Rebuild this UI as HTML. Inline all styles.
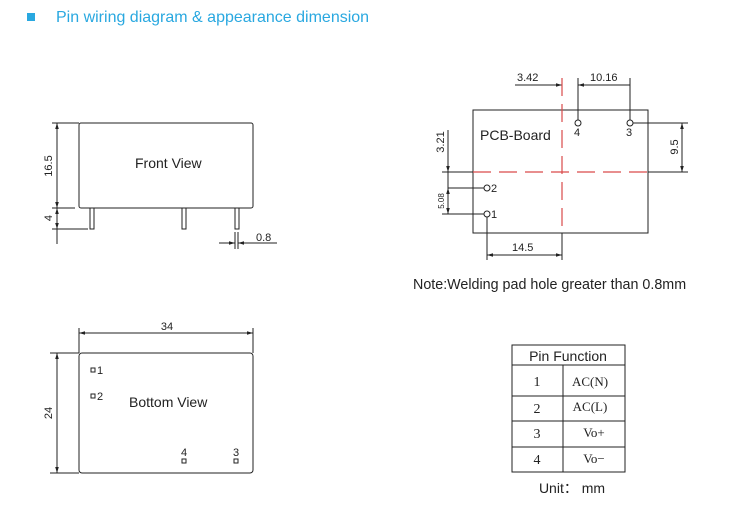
<!DOCTYPE html>
<html><head><meta charset="utf-8"><style>
body{margin:0;background:#fff;width:750px;height:508px;overflow:hidden}
svg{display:block}
text{font-family:"Liberation Sans",Arial,sans-serif;fill:#222}
.s{font-family:"Liberation Serif",serif}
</style></head><body>
<svg width="750" height="508" viewBox="0 0 750 508" xmlns="http://www.w3.org/2000/svg">
<defs>
<marker id="a" viewBox="0 0 10 10" refX="10" refY="5" markerWidth="6" markerHeight="6" orient="auto-start-reverse"><path d="M0,2 L10,5 L0,8" fill="#222"/></marker>
</defs>
<rect x="27" y="13" width="8" height="8" fill="#29a8e0"/>
<text x="56" y="22" font-size="16" style="fill:#29a8e0">Pin wiring diagram &amp; appearance dimension</text>

<g stroke="#222" stroke-width="1" fill="none">
<rect x="79" y="123" width="174" height="85" rx="2"/>
<rect x="90" y="208" width="4" height="21"/>
<rect x="182" y="208" width="4" height="21"/>
<rect x="235" y="208" width="4" height="21"/>
<line x1="52" y1="123" x2="79" y2="123"/>
<line x1="52" y1="208" x2="75" y2="208"/>
<line x1="52" y1="229" x2="88" y2="229"/>
<line x1="57" y1="123" x2="57" y2="208" marker-start="url(#a)" marker-end="url(#a)"/>
<line x1="57" y1="208" x2="57" y2="229" marker-start="url(#a)" marker-end="url(#a)"/>
<line x1="57" y1="229" x2="57" y2="244"/>
<line x1="235" y1="232" x2="235" y2="249"/>
<line x1="238" y1="232" x2="238" y2="249"/>
<line x1="219" y1="243" x2="235" y2="243" marker-end="url(#a)"/>
<line x1="277" y1="243" x2="238" y2="243" marker-end="url(#a)"/>

<rect x="473" y="110" width="175" height="123"/>
<line x1="515" y1="85" x2="562" y2="85" marker-end="url(#a)"/>
<line x1="578" y1="85" x2="630" y2="85" marker-start="url(#a)"/>
<line x1="578" y1="78" x2="578" y2="120"/>
<line x1="630" y1="78" x2="630" y2="120"/>
<line x1="633" y1="123" x2="688" y2="123"/>
<line x1="648" y1="172" x2="688" y2="172"/>
<line x1="682" y1="123" x2="682" y2="172" marker-start="url(#a)" marker-end="url(#a)"/>
<line x1="442" y1="172" x2="473" y2="172"/>
<line x1="448" y1="130" x2="448" y2="172" marker-end="url(#a)"/>
<line x1="448" y1="172" x2="448" y2="188"/>
<line x1="448" y1="188" x2="448" y2="214" marker-start="url(#a)" marker-end="url(#a)"/>
<line x1="448" y1="188" x2="484" y2="188"/>
<line x1="442" y1="214" x2="484" y2="214"/>
<line x1="487" y1="217" x2="487" y2="260"/>
<line x1="487" y1="255" x2="562" y2="255" marker-start="url(#a)" marker-end="url(#a)"/>
<line x1="562" y1="233" x2="562" y2="260"/>
<circle cx="578" cy="123" r="3"/>
<circle cx="630" cy="123" r="3"/>
<circle cx="487" cy="188" r="3"/>
<circle cx="487" cy="214" r="3"/>

<rect x="79" y="353" width="174" height="120" rx="3"/>
<line x1="79" y1="328" x2="79" y2="353"/>
<line x1="253" y1="328" x2="253" y2="353"/>
<line x1="79" y1="333" x2="253" y2="333" marker-start="url(#a)" marker-end="url(#a)"/>
<line x1="50" y1="353" x2="79" y2="353"/>
<line x1="50" y1="473" x2="79" y2="473"/>
<line x1="57" y1="353" x2="57" y2="473" marker-start="url(#a)" marker-end="url(#a)"/>
<rect x="91" y="368" width="4" height="4"/>
<rect x="91" y="394" width="4" height="4"/>
<rect x="182" y="459" width="4" height="4"/>
<rect x="234" y="459" width="4" height="4"/>

<rect x="512" y="345" width="113" height="127"/>
<line x1="512" y1="365" x2="625" y2="365"/>
<line x1="512" y1="396" x2="625" y2="396"/>
<line x1="512" y1="421" x2="625" y2="421"/>
<line x1="512" y1="447" x2="625" y2="447"/>
<line x1="563" y1="365" x2="563" y2="472"/>
</g>
<g stroke="#d94a4a" stroke-width="1.2" stroke-dasharray="18,8">
<line x1="562" y1="78" x2="562" y2="233"/>
<line x1="473" y1="172" x2="648" y2="172"/>
</g>

<text x="135" y="168" font-size="14">Front View</text>
<text transform="translate(52,166) rotate(-90)" font-size="11" text-anchor="middle">16.5</text>
<text transform="translate(52,218) rotate(-90)" font-size="11" text-anchor="middle">4</text>
<text x="256" y="241" font-size="11">0.8</text>

<text x="517" y="81" font-size="11">3.42</text>
<text x="590" y="81" font-size="11">10.16</text>
<text x="480" y="140" font-size="14">PCB-Board</text>
<text x="574" y="136" font-size="11">4</text>
<text x="626" y="136" font-size="11">3</text>
<text x="491" y="192" font-size="11">2</text>
<text x="491" y="218" font-size="11">1</text>
<text transform="translate(444,142) rotate(-90)" font-size="11" text-anchor="middle">3.21</text>
<text transform="translate(444,201) rotate(-90)" font-size="8" text-anchor="middle">5.08</text>
<text transform="translate(678,147) rotate(-90)" font-size="11" text-anchor="middle">9.5</text>
<text x="512" y="251" font-size="11">14.5</text>
<text x="413" y="289" font-size="14.3">Note:Welding pad hole greater than 0.8mm</text>

<text x="167" y="330" font-size="11" text-anchor="middle">34</text>
<text transform="translate(52,413) rotate(-90)" font-size="11" text-anchor="middle">24</text>
<text x="97" y="374" font-size="11">1</text>
<text x="97" y="400" font-size="11">2</text>
<text x="129" y="407" font-size="14">Bottom View</text>
<text x="184" y="456" font-size="11" text-anchor="middle">4</text>
<text x="236" y="456" font-size="11" text-anchor="middle">3</text>

<text x="568" y="361" font-size="14" text-anchor="middle">Pin Function</text>
<text class="s" x="537" y="386" font-size="14" text-anchor="middle">1</text>
<text class="s" x="537" y="413" font-size="14" text-anchor="middle">2</text>
<text class="s" x="537" y="438" font-size="14" text-anchor="middle">3</text>
<text class="s" x="537" y="464" font-size="14" text-anchor="middle">4</text>
<text class="s" x="590" y="386" font-size="13" text-anchor="middle">AC(N)</text>
<text class="s" x="590" y="411" font-size="13" text-anchor="middle">AC(L)</text>
<text class="s" x="594" y="437" font-size="13" text-anchor="middle">Vo+</text>
<text class="s" x="594" y="463" font-size="13" text-anchor="middle">Vo−</text>
<text x="572" y="493" font-size="14" text-anchor="middle">Unit： mm</text>
</svg>
</body></html>
